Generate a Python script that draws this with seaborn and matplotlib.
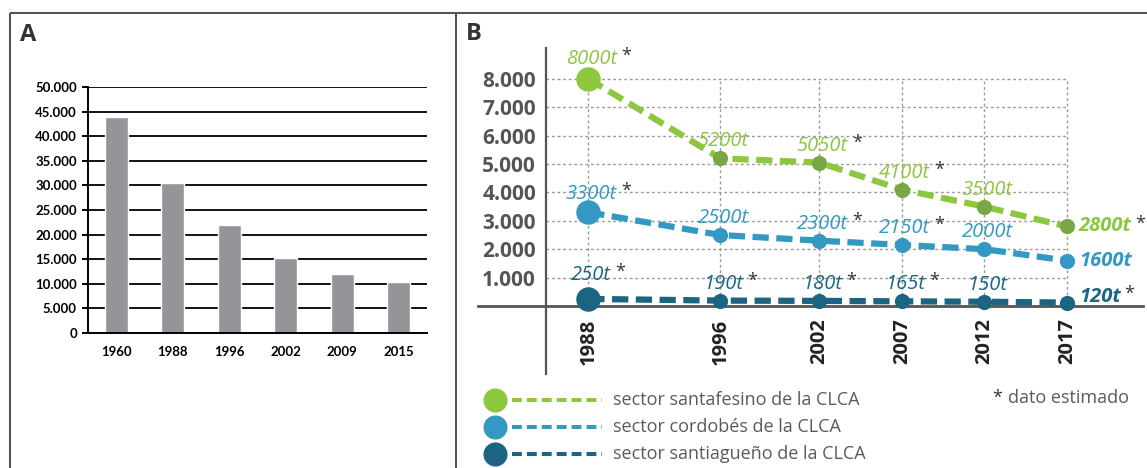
import matplotlib
matplotlib.use("Agg")
import matplotlib.pyplot as plt
import seaborn as sns

# ---- Panel A: total production by year ----
years_a = ["1960", "1988", "1996", "2002", "2009", "2015"]
production_a = [44000, 30500, 22000, 15300, 11900, 10400]
yticks_a = [0, 5000, 10000, 15000, 20000, 25000, 30000, 35000, 40000, 45000, 50000]

# ---- Panel B: production by sector of the CLCA ----
years_b = [1988, 1996, 2002, 2007, 2012, 2017]
santafe = [8000, 5200, 5050, 4100, 3500, 2800]
cordoba = [3300, 2500, 2300, 2150, 2000, 1600]
santiago = [250, 190, 180, 165, 150, 120]
santafe_est = [True, False, True, True, False, True]
cordoba_est = [True, False, True, True, False, False]
santiago_est = [True, True, True, True, False, True]
yticks_b = [1000, 2000, 3000, 4000, 5000, 6000, 7000, 8000]
sector_names = ["sector santafesino de la CLCA",
                "sector cordobés de la CLCA",
                "sector santiagueño de la CLCA"]
note_text = "dato estimado"

GREEN, GREEN_DARK = "#8dc63f", "#77a845"
BLUE = "#3399c2"
TEAL = "#1b6582"
GRAY_TXT = "#5a5a5a"

sns.set_style("white")
plt.rcParams["font.family"] = ["Open Sans", "DejaVu Sans"]

W, H = 1147, 468
fig = plt.figure(figsize=(W / 100, H / 100), dpi=100)
PX = 72 / 100  # points per pixel


def fbox(x0, y0, x1, y1):
    """pixel box (top-left origin) -> figure fraction rect"""
    return [x0 / W, 1 - y1 / H, (x1 - x0) / W, (y1 - y0) / H]


def thousands(v):
    return f"{v:,}".replace(",", ".")


# ================= Panel A =================
axA = fig.add_axes(fbox(88, 87, 427, 333))
sns.barplot(x=years_a, y=production_a, color="#939598", saturation=1,
            width=0.41, ax=axA, zorder=3)
axA.set_ylim(0, 50000)
axA.set_xlim(-0.5, len(years_a) - 0.5)
tick_font_a = dict(fontsize=9.5, fontweight="bold", color="black",
                   family=["Lato", "DejaVu Sans"])
axA.set_yticks(yticks_a)
axA.set_yticklabels([thousands(v) for v in yticks_a], **tick_font_a)
axA.set_xticks(range(len(years_a)))
axA.set_xticklabels(years_a, **tick_font_a)
axA.set_xticks([i - 0.5 for i in range(len(years_a) + 1)], minor=True)
axA.tick_params(axis="x", which="major", length=0, pad=9)
axA.tick_params(axis="x", which="minor", length=4, width=1.4, color="black",
                direction="out")
axA.tick_params(axis="y", length=4, width=1.4, color="black", direction="out",
                pad=4, left=True)
for v in yticks_a[1:]:
    axA.axhline(v, color="black", lw=1.3, zorder=1)
for s in ["top", "right"]:
    axA.spines[s].set_visible(False)
for s in ["left", "bottom"]:
    axA.spines[s].set_color("black")
    axA.spines[s].set_linewidth(1.4)
    axA.spines[s].set_zorder(4)
axA.set_xlabel("")
axA.set_ylabel("")

# ================= Panel B =================
X0_PX, X1_PX = 478, 1143
Y0_PX, Y1_PX = 48, 374
axB = fig.add_axes(fbox(X0_PX, Y0_PX, X1_PX, Y1_PX))
px_per_year = 16.5
px_per_unit = 28.4 / 1000
x_ref_px, y_zero_px = 588.3, 306
axB.set_xlim(1988 - (x_ref_px - X0_PX) / px_per_year,
             1988 + (X1_PX - x_ref_px) / px_per_year)
axB.set_ylim(-(Y1_PX - y_zero_px) / px_per_unit,
             (y_zero_px - Y0_PX) / px_per_unit)
y_axis_year = 1988 - (x_ref_px - 545.7) / px_per_year

# dotted grid
grid_kw = dict(color="#9a9a9a", lw=1.0, linestyle=(0, (2, 2)), zorder=1)
axB.hlines(yticks_b, y_axis_year, years_b[-1], **grid_kw)
axB.vlines(years_b, 0, yticks_b[-1], **grid_kw)

series = [
    (santafe, santafe_est, GREEN, GREEN_DARK),
    (cordoba, cordoba_est, BLUE, BLUE),
    (santiago, santiago_est, TEAL, TEAL),
]
line_dash = (0, (2.6, 1.2))
for vals, est, col, col_small in series:
    sns.lineplot(x=years_b, y=vals, color=col, lw=4.5, linestyle=line_dash,
                 ax=axB, zorder=3)
    sns.scatterplot(x=years_b[1:], y=vals[1:], color=col_small, s=120,
                    linewidth=0, ax=axB, zorder=4)
    sns.scatterplot(x=years_b[:1], y=vals[:1], color=col, s=310,
                    linewidth=0, ax=axB, zorder=4)

axB.spines["left"].set_position(("data", y_axis_year))
axB.spines["bottom"].set_position(("data", 0))
for s in ["top", "right"]:
    axB.spines[s].set_visible(False)
axB.spines["left"].set_color("#555555")
axB.spines["left"].set_linewidth(1.6)
axB.spines["bottom"].set_color("#555555")
axB.spines["bottom"].set_linewidth(2.0)

axB.set_yticks(yticks_b)
axB.set_yticklabels([thousands(v) for v in yticks_b], fontsize=15,
                    fontweight="bold", color="#555555")
axB.tick_params(axis="y", length=0, pad=7)
axB.set_xticks(years_b)
axB.set_xticklabels([str(y) for y in years_b], rotation=90, fontsize=14.5,
                    fontweight="bold", color="#222222")
axB.tick_params(axis="x", length=0, pad=9)
axB.set_xlabel("")
axB.set_ylabel("")

# value labels
labels = []
for (vals, est, col, _), first_dy in zip(series, (-20, -18, -24)):
    for i, (yr, v, e) in enumerate(zip(years_b, vals, est)):
        last = i == len(years_b) - 1
        if last:
            dx, dy, ha = 12, (-6 if vals is santiago else 0), "left"
            weight = "bold"
        else:
            dx, dy, ha = 3, (first_dy if i == 0 else -17), "center"
            weight = "normal"
        t = axB.annotate(f"{v}t", xy=(yr, v), xytext=(dx * PX, -dy * PX),
                         textcoords="offset points", ha=ha, va="center",
                         fontsize=14.5, fontstyle="italic", fontweight=weight,
                         color=col, zorder=5)
        labels.append((t, e))

# ================= frame, letters and legend =================
ov = fig.add_axes([0, 0, 1, 1], zorder=10)
ov.set_xlim(0, W)
ov.set_ylim(H, 0)
ov.axis("off")
ov.patch.set_alpha(0)

frame_kw = dict(color="#555555", lw=1.5, solid_capstyle="butt")
ov.plot([10, 10], [13, H + 2], **frame_kw)
ov.plot([10, W + 2], [13, 13], **frame_kw)
ov.plot([456, 456], [13, H + 2], **frame_kw)

ov.text(20, 35, "A", fontsize=17, fontweight="bold", color="#333333",
        ha="left", va="center")
ov.text(466, 34, "B", fontsize=17, fontweight="bold", color="#333333",
        ha="left", va="center")

leg_y = [400, 427, 454]
for (vals, est, col, _), name, ly in zip(series, sector_names, leg_y):
    ov.scatter([495], [ly], s=300, color=col, linewidth=0)
    ov.plot([512, 602], [ly, ly], color=col, lw=2.9,
            linestyle=(0, (2.45, 1.25)))
    ov.text(613, ly, name, fontsize=13, color=GRAY_TXT, ha="left",
            va="center")
ov.text(992, 398, "*", fontsize=13, color="#333333", ha="left", va="center")
ov.text(1008, 398, note_text, fontsize=13, color=GRAY_TXT, ha="left",
        va="center")

# asterisks after estimated values
fig.canvas.draw()
for t, e in labels:
    if not e:
        continue
    bb = t.get_window_extent()
    cx = bb.x1 + 4
    cy = H - (bb.y0 + bb.y1) / 2 - 3
    ov.text(cx, cy, "*", fontsize=13, color="#333333", ha="left",
            va="center")

fig.savefig("out.png", dpi=100)
